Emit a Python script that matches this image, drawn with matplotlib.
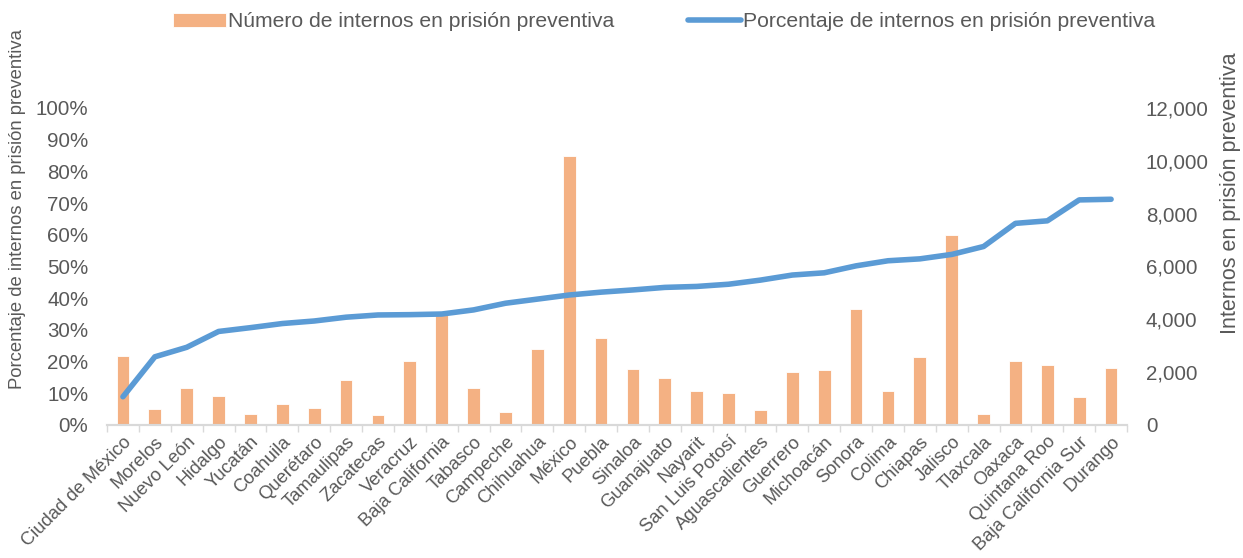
import matplotlib
matplotlib.use("Agg")
import matplotlib.pyplot as plt
from matplotlib.ticker import FixedLocator, FuncFormatter
import numpy as np

plt.rcParams['font.family'] = ['Liberation Sans', 'DejaVu Sans']

estados = [
    "Ciudad de México", "Morelos", "Nuevo León", "Hidalgo", "Yucatán",
    "Coahuila", "Querétaro", "Tamaulipas", "Zacatecas", "Veracruz",
    "Baja California", "Tabasco", "Campeche", "Chihuahua", "México",
    "Puebla", "Sinaloa", "Guanajuato", "Nayarit", "San Luis Potosí",
    "Aguascalientes", "Guerrero", "Michoacán", "Sonora", "Colima",
    "Chiapas", "Jalisco", "Tlaxcala", "Oaxaca", "Quintana Roo",
    "Baja California Sur", "Durango",
]

internos = [
    2620, 600, 1390, 1090, 420, 810, 630, 1700, 380, 2420,
    4150, 1390, 490, 2860, 10200, 3300, 2130, 1780, 1290, 1200,
    580, 1990, 2070, 4390, 1290, 2560, 7200, 400, 2410, 2270,
    1060, 2160,
]

porcentaje = [
    8.9, 21.5, 24.5, 29.5, 30.7, 32.0, 32.8, 34.0, 34.7, 34.8,
    35.0, 36.3, 38.4, 39.7, 41.0, 41.9, 42.6, 43.4, 43.7, 44.4,
    45.7, 47.3, 48.0, 50.2, 51.8, 52.4, 53.8, 56.3, 63.6, 64.4,
    71.0, 71.2,
]

bar_color = "#F4B183"
line_color = "#5B9BD5"
text_color = "#595959"
axis_color = "#D9D9D9"

fig = plt.figure(figsize=(12.43, 5.58), dpi=100)
ax = fig.add_axes([0.0861, 0.2384, 0.8206, 0.5681])
ax2 = ax.twinx()

x = np.arange(len(estados))

bars = ax2.bar(x, internos, width=0.4, color=bar_color, edgecolor="white",
               linewidth=0.6, label="Número de internos en prisión preventiva")
line, = ax.plot(x, np.array(porcentaje) / 100, color=line_color, linewidth=4.0,
                solid_capstyle="round", solid_joinstyle="round",
                label="Porcentaje de internos en prisión preventiva")

# line above the bars
ax.set_zorder(ax2.get_zorder() + 1)
ax.patch.set_visible(False)

ax.set_xlim(-0.5, len(estados) - 0.5)
ax.set_ylim(0, 1.0)
ax2.set_ylim(0, 12000)

ax.set_yticks(np.arange(0, 1.01, 0.1))
ax.yaxis.set_major_formatter(FuncFormatter(lambda v, p: f"{v*100:.0f}%"))
ax2.set_yticks(np.arange(0, 12001, 2000))
ax2.yaxis.set_major_formatter(FuncFormatter(lambda v, p: f"{v:,.0f}"))

ax.set_xticks(x)
ax.set_xticklabels(estados, rotation=45, ha="right", rotation_mode="anchor")
ax.xaxis.set_minor_locator(FixedLocator(np.arange(-0.5, len(estados), 1.0)))
ax.tick_params(axis="x", which="major", length=0, pad=6, labelsize=13.2,
               labelcolor=text_color)
ax.tick_params(axis="x", which="minor", length=5, width=1, color=axis_color)
ax.tick_params(axis="y", length=0, pad=13.5, labelsize=14.8, labelcolor=text_color)
ax2.tick_params(axis="y", length=0, pad=13.5, labelsize=14.8, labelcolor=text_color)

for a in (ax, ax2):
    for s in ("top", "right", "left"):
        a.spines[s].set_visible(False)
    a.spines["bottom"].set_color(axis_color)
    a.spines["bottom"].set_linewidth(1.5)

ax.set_ylabel("Porcentaje de internos en prisión preventiva", fontsize=13.3,
              color=text_color, va="center")
ax.yaxis.set_label_coords(-0.088, 0.68)
ax2.set_ylabel("Internos en prisión preventiva", fontsize=15.5, color=text_color,
               va="center")
ax2.yaxis.set_label_coords(1.101, 0.73)

fig.legend(handles=[bars, line], loc="upper center", ncol=2,
           bbox_to_anchor=(0.534, 1.012), frameon=False, fontsize=15.2,
           handlelength=2.5, handletextpad=0.1, columnspacing=3.5,
           labelcolor=text_color)

fig.savefig("out.png", dpi=100)
